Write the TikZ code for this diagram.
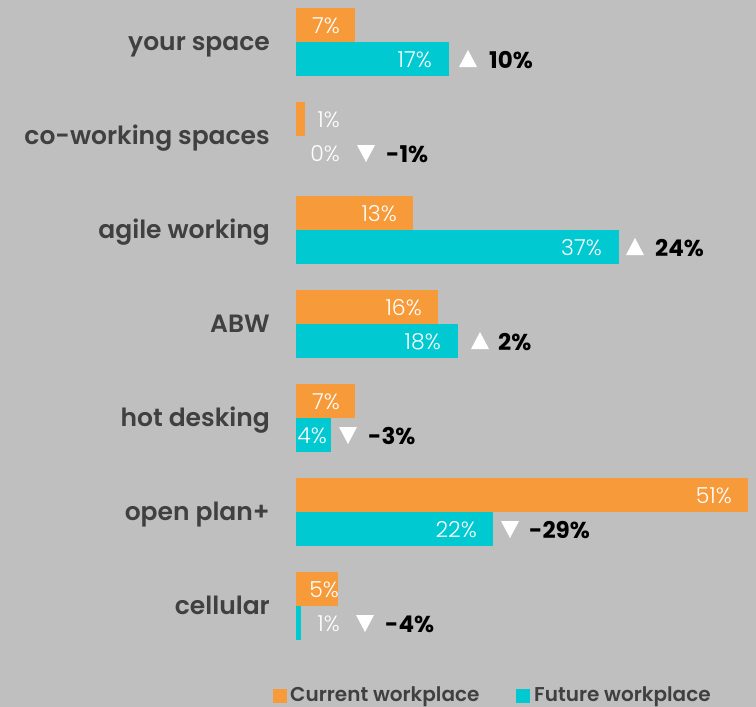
\documentclass[tikz,border=0pt]{standalone}
\usepackage{fontspec}
\setmainfont{Poppins}
\newfontfamily\lightf{Poppins Light}
\newfontfamily\semif{Poppins SemiBold}
\definecolor{bg}{HTML}{BFBFBF}
\definecolor{cur}{HTML}{F79A3A}
\definecolor{fut}{HTML}{00C9D1}
\definecolor{lab}{HTML}{404040}
\newcommand\uptri[2]{\fill[white] (#1,#2+8) -- (#1+18,#2+8) -- (#1+9,#2-9) -- cycle;}
\newcommand\dntri[2]{\fill[white] (#1,#2-8) -- (#1+18,#2-8) -- (#1+9,#2+9) -- cycle;}
\begin{document}
\begin{tikzpicture}[x=1pt,y=-1pt,
 cat/.style={anchor=base east, font=\semif\fontsize{25}{25}\selectfont, text=lab, inner sep=0},
 val/.style={anchor=base east, font=\lightf\fontsize{22}{22}\selectfont, text=white, inner sep=0},
 chg/.style={anchor=base west, font=\bfseries\fontsize{23}{23}\selectfont, text=black, inner sep=0},
 leg/.style={anchor=base west, font=\semif\fontsize{20}{20}\selectfont, text=lab, inner sep=0},
 curbar/.style={fill=cur, draw=none, inner sep=0, anchor=north west, minimum height=34pt},
 futbar/.style={fill=fut, draw=none, inner sep=0, anchor=north west, minimum height=34pt},
]
\fill[bg] (0,0) rectangle (756,707);
\useasboundingbox (0,0) rectangle (756,707);

% row 0: your space (y0=8)
\node[curbar, minimum width=59pt] (c0) at (296,8) {};
\node[futbar, minimum width=153pt] (f0) at (296,42) {};
\node[cat] (l0) at (270,50) {your space};
\node[val] (cv0) at (340,33.5) {7\%};
\node[val] (fv0) at (432,67.5) {17\%};
\uptri{459}{59}
\node[chg] (d0) at (489,68) {10\%};

% row 1: co-working spaces (y0=102)
\node[curbar, minimum width=9pt] (c1) at (296,102) {};
\node[cat] (l1) at (270,144) {co-working spaces};
\node[val] (cv1) at (340,127.5) {1\%};
\node[val] (fv1) at (340,161.5) {0\%};
\dntri{357}{153}
\node[chg] (d1) at (386,162) {-1\%};

% row 2: agile working (y0=196)
\node[curbar, minimum width=117pt] (c2) at (296,196) {};
\node[futbar, minimum width=323pt] (f2) at (296,230) {};
\node[cat] (l2) at (270,238) {agile working};
\node[val] (cv2) at (397,221.5) {13\%};
\node[val] (fv2) at (602,255.5) {37\%};
\uptri{626}{247}
\node[chg] (d2) at (655,256) {24\%};

% row 3: ABW (y0=290)
\node[curbar, minimum width=142pt] (c3) at (296,290) {};
\node[futbar, minimum width=162pt] (f3) at (296,324) {};
\node[cat] (l3) at (270,332) {ABW};
\node[val] (cv3) at (422,315.5) {16\%};
\node[val] (fv3) at (441,349.5) {18\%};
\uptri{471}{341}
\node[chg] (d3) at (498,350) {2\%};

% row 4: hot desking (y0=384)
\node[curbar, minimum width=59pt] (c4) at (296,384) {};
\node[futbar, minimum width=35pt] (f4) at (296,418) {};
\node[cat] (l4) at (270,426) {hot desking};
\node[val] (cv4) at (340,409.5) {7\%};
\node[val] (fv4) at (327,443.5) {4\%};
\dntri{339}{435}
\node[chg] (d4) at (368,444) {-3\%};

% row 5: open plan+ (y0=478)
\node[curbar, minimum width=452pt] (c5) at (296,478) {};
\node[futbar, minimum width=197pt] (f5) at (296,512) {};
\node[cat] (l5) at (270,520) {open plan+};
\node[val] (cv5) at (732,503.5) {51\%};
\node[val] (fv5) at (477,537.5) {22\%};
\dntri{501}{529}
\node[chg] (d5) at (529,538) {-29\%};

% row 6: cellular (y0=572)
\node[curbar, minimum width=42pt] (c6) at (296,572) {};
\node[futbar, minimum width=5pt] (f6) at (296,606) {};
\node[cat] (l6) at (270,614) {cellular};
\node[val] (cv6) at (339,597.5) {5\%};
\node[val] (fv6) at (340,631.5) {1\%};
\dntri{356}{623}
\node[chg] (d6) at (385,632) {-4\%};

% legend
\node[fill=cur, inner sep=0, minimum size=14pt] (lc) at (280,696) {};
\node[leg] (lct) at (290,701) {Current workplace};
\node[fill=fut, inner sep=0, minimum size=14pt] (lf) at (523,696) {};
\node[leg] (lft) at (534,701) {Future workplace};
\end{tikzpicture}
\end{document}
